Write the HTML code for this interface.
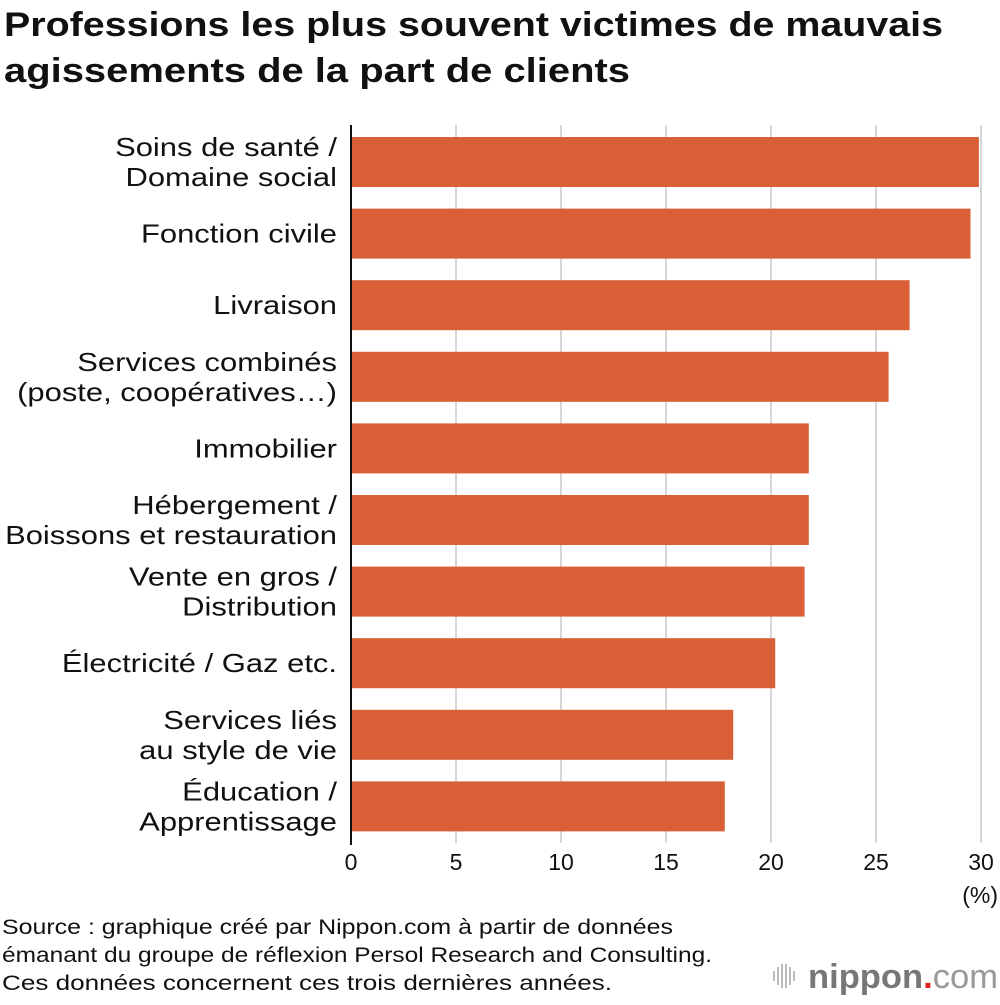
<!DOCTYPE html>
<html><head><meta charset="utf-8"><style>
html,body{margin:0;padding:0;background:#fff;}
body{width:1000px;height:1000px;overflow:hidden;font-family:"Liberation Sans",sans-serif;}
</style></head><body>
<svg width="1000" height="1000" xmlns="http://www.w3.org/2000/svg" font-family="Liberation Sans, sans-serif">
<text x="4" y="36" font-size="34" font-weight="bold" fill="#111" textLength="939" lengthAdjust="spacingAndGlyphs">Professions les plus souvent victimes de mauvais</text>
<text x="4" y="82" font-size="34" font-weight="bold" fill="#111" textLength="626" lengthAdjust="spacingAndGlyphs">agissements de la part de clients</text>
<g id="grid"></g>
<g id="bars"></g>
<line x1="351" y1="125" x2="351" y2="845" stroke="#111" stroke-width="2"/>
<g id="labels"></g>
<g id="ticks"></g>
<text x="998" y="903" font-size="23" text-anchor="end" fill="#111">(%)</text>
<g font-size="21" fill="#111">
<text x="2" y="934" textLength="671" lengthAdjust="spacingAndGlyphs">Source : graphique créé par Nippon.com à partir de données</text>
<text x="2" y="962" textLength="710" lengthAdjust="spacingAndGlyphs">émanant du groupe de réflexion Persol Research and Consulting.</text>
<text x="2" y="990" textLength="610" lengthAdjust="spacingAndGlyphs">Ces données concernent ces trois dernières années.</text>
</g>
<g>
<g stroke="#bbb" stroke-width="2">
<line x1="774" y1="971" x2="774" y2="981"/><line x1="778" y1="967" x2="778" y2="985"/><line x1="782" y1="964" x2="782" y2="988"/><line x1="786" y1="964" x2="786" y2="988"/><line x1="790" y1="967" x2="790" y2="985"/><line x1="794" y1="971" x2="794" y2="981"/>
</g>
<text x="808" y="988" font-size="34" fill="#777" font-weight="bold" textLength="190" lengthAdjust="spacingAndGlyphs">nippon<tspan fill="#e02020">.</tspan><tspan font-weight="normal" fill="#999">com</tspan></text>
</g>
</svg>
<script>
const categories=[["Soins de santé /","Domaine social"],["Fonction civile"],["Livraison"],["Services combinés","(poste, coopératives…)"],["Immobilier"],["Hébergement /","Boissons et restauration"],["Vente en gros /","Distribution"],["Électricité / Gaz etc."],["Services liés","au style de vie"],["Éducation /","Apprentissage"]];
const values=[29.9,29.5,26.6,25.6,21.8,21.8,21.6,20.2,18.2,17.8];
const tickValues=[0,5,10,15,20,25,30];
const NS="http://www.w3.org/2000/svg";
const x=v=>351+v*21;
const yTop=i=>137+i*71.6;
const barH=50;
function mk(t,a){const e=document.createElementNS(NS,t);for(const k in a)e.setAttribute(k,a[k]);return e;}
const grid=document.getElementById('grid'),bars=document.getElementById('bars'),labels=document.getElementById('labels'),ticks=document.getElementById('ticks');
tickValues.forEach(t=>{
 if(t>0){const l=mk('line',{x1:x(t),x2:x(t),y1:125,y2:843,stroke:'#d6d6d6','stroke-width':2});
 
 
 grid.appendChild(l);}
 const tx=mk('text',{x:x(t),y:870,'font-size':23,'text-anchor':'middle',fill:'#111'});tx.textContent=t;
 
 
 ticks.appendChild(tx);
});
values.forEach((v,i)=>{
 const r=mk('rect',{x:x(0),y:yTop(i),width:x(v)-x(0),height:barH,fill:'#d95f36'});
 
 
 bars.appendChild(r);
 const lines=categories[i];const cy=yTop(i)+barH/2;
 const g=mk('g',{});
 
 
 labels.appendChild(g);
 lines.forEach((s,j)=>{
  const t=mk('text',{x:337,y:cy+9+(j-(lines.length-1)/2)*30,'font-size':26,'text-anchor':'end',fill:'#111'});
  t.textContent=s;g.appendChild(t);
  const w=t.getComputedTextLength();
  t.setAttribute('textLength',(w*1.19).toFixed(1));
  t.setAttribute('lengthAdjust','spacingAndGlyphs');
 });
});
</script>
</body></html>
